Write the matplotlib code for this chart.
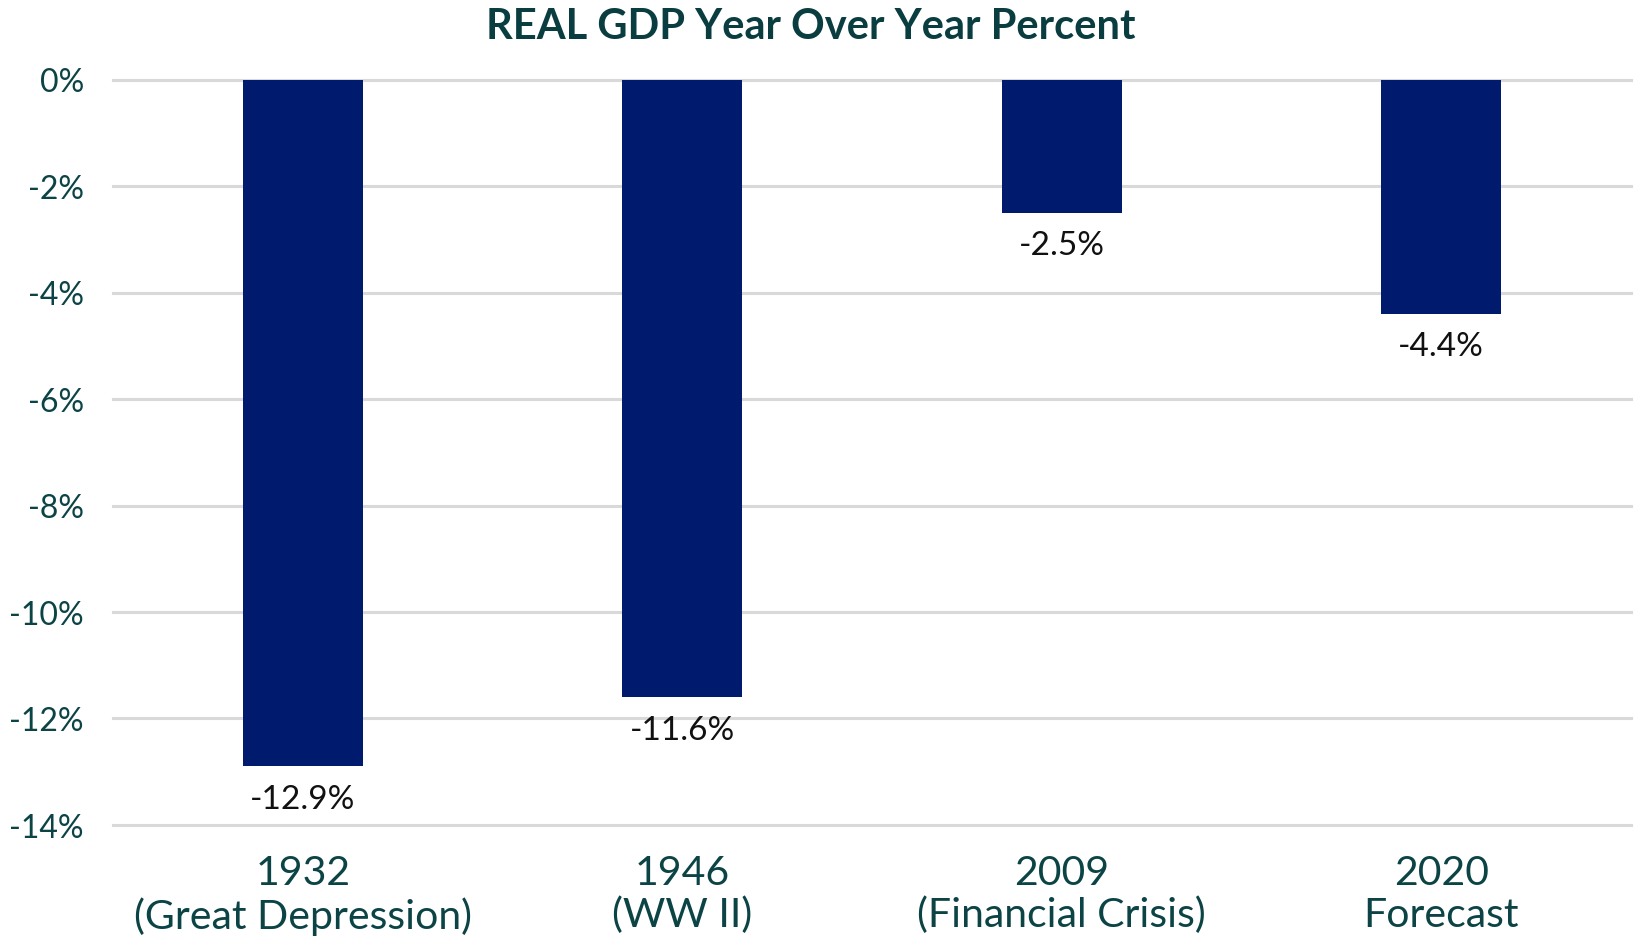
import matplotlib
matplotlib.use("Agg")
import matplotlib.pyplot as plt

categories = ["1932\n(Great Depression)", "1946\n(WW II)", "2009\n(Financial Crisis)", "2020\nForecast"]
values = [-12.9, -11.6, -2.5, -4.4]
value_labels = ["-12.9%", "-11.6%", "-2.5%", "-4.4%"]
yticks = [0, -2, -4, -6, -8, -10, -12, -14]
ytick_labels = ["0%", "-2%", "-4%", "-6%", "-8%", "-10%", "-12%", "-14%"]
title = "REAL GDP Year Over Year Percent"

FONT = "Lato"
TEAL = "#0c4446"
NAVY = "#001a6e"

plt.rcParams["font.family"] = [FONT, "DejaVu Sans"]

W, H = 1636, 937
fig = plt.figure(figsize=(W / 100, H / 100), dpi=100)
left, right = 113 / W, 1631 / W
bottom, top = 1 - 826 / H, 1 - 80.5 / H
ax = fig.add_axes([left, bottom, right - left, top - bottom])

x = list(range(len(categories)))
ax.bar(x, values, width=0.316, color=NAVY, zorder=3)
ax.set_xlim(-0.5, len(categories) - 0.5)
ax.set_ylim(-14, 0)
ax.set_yticks(yticks)
ax.set_yticklabels(ytick_labels)
ax.set_xticks(x)
ax.set_xticklabels(categories, linespacing=1.15)

ax.yaxis.grid(True, color="#d9d9d9", linewidth=2.2, zorder=0)
for gl in ax.get_ygridlines():
    gl.set_clip_on(False)
ax.set_axisbelow(True)
for s in ax.spines.values():
    s.set_visible(False)
ax.tick_params(axis="y", length=0, pad=21, labelsize=23, labelcolor=TEAL)
ax.tick_params(axis="x", length=0, pad=21, labelsize=29.5, labelcolor=TEAL)

for xi, v, lab in zip(x, values, value_labels):
    ax.annotate(lab, (xi, v), xytext=(0, -23.5), textcoords="offset points",
                ha="center", va="center", fontsize=24, color="#111111")

fig.text(811 / W, 1 - 27 / H, title, ha="center", va="center",
         fontsize=30, fontweight="bold", color="#0a3d3f")

fig.savefig("out.png", dpi=100)
